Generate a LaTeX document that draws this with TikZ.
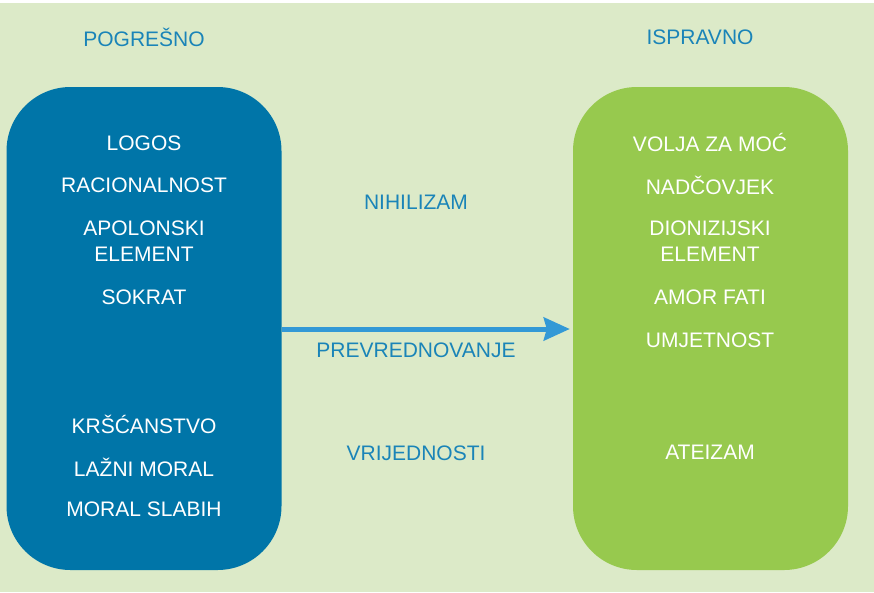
\documentclass[tikz,border=0pt]{standalone}
\usepackage{fontspec}
\setmainfont{Liberation Sans}
\usetikzlibrary{arrows.meta}
\definecolor{bgc}{HTML}{DCEAC8}
\definecolor{boxblue}{HTML}{0075A8}
\definecolor{boxgreen}{HTML}{97C94E}
\definecolor{arrowc}{HTML}{3399D6}
\definecolor{titlec}{HTML}{1A84B8}
\begin{document}
\begin{tikzpicture}[x=1pt,y=-1pt,
  panel/.style={rounded corners=64pt,minimum width=275pt,minimum height=483pt,inner sep=0pt},
  item/.style={text=white,font=\fontsize{21}{26}\selectfont,align=center,inner sep=0pt},
  head/.style={text=titlec,font=\fontsize{21}{26}\selectfont,inner sep=0pt},
  mid/.style={text=titlec,font=\fontsize{21}{26}\selectfont,inner sep=0pt},
  arr/.style={draw=arrowc,line width=5pt,-{Stealth[length=26pt,width=23pt,inset=3pt]}}]
\useasboundingbox (0,0) rectangle (874,592);
\fill[white] (0,0) rectangle (874,3);
\fill[bgc] (0,3) rectangle (874,592);
\node[panel,fill=boxblue] (left) at (144,328.5) {};
\node[panel,fill=boxgreen] (right) at (710.5,328.5) {};
\node[head] (hl) at (144,37) {POGREŠNO};
\node[head] (hr) at (700,37) {ISPRAVNO};
\node[item] (l1) at (144,143) {LOGOS};
\node[item] (l2) at (144,185) {RACIONALNOST};
\node[item] (l3) at (144,241) {APOLONSKI\\ELEMENT};
\node[item] (l4) at (144,297) {SOKRAT};
\node[item] (l5) at (144,424) {KRŠĆANSTVO};
\node[item] (l6) at (144,467) {LAŽNI MORAL};
\node[item] (l7) at (144,509) {MORAL SLABIH};
\node[item] (r1) at (710,142) {VOLJA ZA MOĆ};
\node[item] (r2) at (710,185) {NADČOVJEK};
\node[item] (r3) at (710,241) {DIONIZIJSKI\\ELEMENT};
\node[item] (r4) at (710,297) {AMOR FATI};
\node[item] (r5) at (710,340) {UMJETNOST};
\node[item] (r6) at (710,452) {ATEIZAM};
\node[mid] (m1) at (416,202) {NIHILIZAM};
\node[mid] (m2) at (416,350) {PREVREDNOVANJE};
\node[mid] (m3) at (416,453) {VRIJEDNOSTI};
\coordinate (ay) at (0,329);
\draw[arr] (left.east |- ay) -- ([xshift=-3pt]right.west |- ay);
\end{tikzpicture}
\end{document}
